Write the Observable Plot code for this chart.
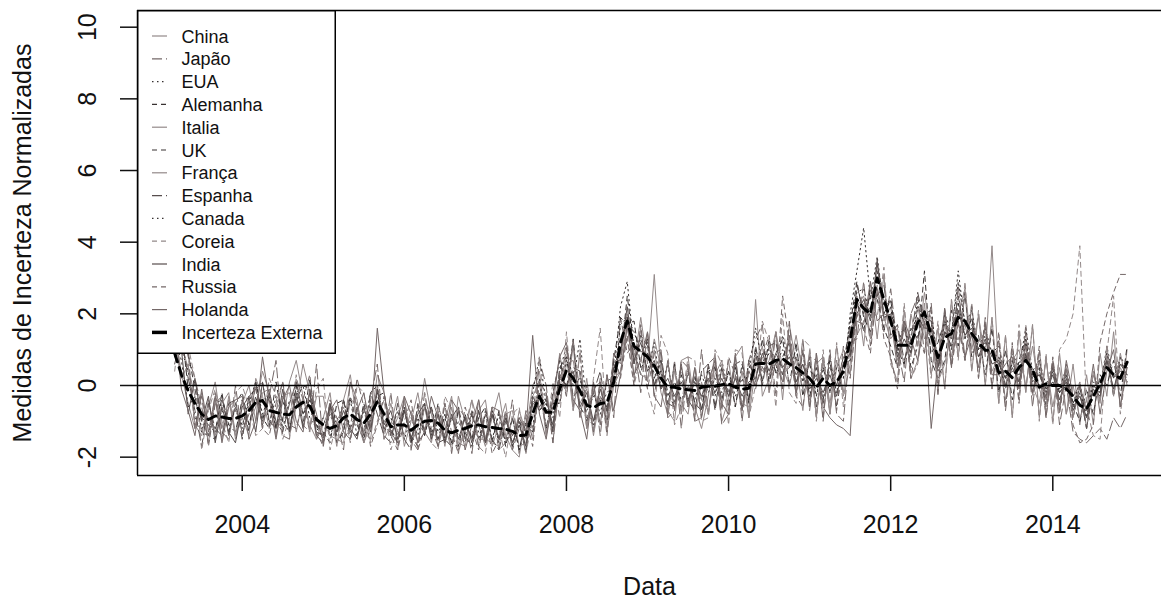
<!DOCTYPE html>
<html>
<head>
<meta charset="utf-8">
<script src="https://cdn.jsdelivr.net/npm/d3@7"></script>
<script src="https://cdn.jsdelivr.net/npm/@observablehq/plot@0.6"></script>
<style>
  html, body { margin: 0; padding: 0; background: #fff; }
  #wrap { position: relative; width: 1161px; height: 605px; overflow: hidden; font-family: "Liberation Sans", Arial, sans-serif; }
  #legend { position: absolute; left: 0; top: 0; pointer-events: none; }
</style>
</head>
<body>
<div id="wrap"></div>
<script>
// Monthly series, March 2003 .. December 2014 (142 values each)
const startYear = 2003, startMonth = 3;
const xTicks = [2004, 2006, 2008, 2010, 2012, 2014];
const yTicks = [-2, 0, 2, 4, 6, 8, 10];

const incertezaExterna = [
  0.9, 0.3, -0.15, -0.5, -0.8, -0.95, -0.85, -0.88, -0.92, -0.92,
  -0.85, -0.7, -0.47, -0.42, -0.7, -0.75, -0.8, -0.82, -0.6, -0.47, -0.58, -0.95,
  -1.1, -1.2, -1.12, -0.9, -0.8, -0.95, -1.05, -0.8, -0.45, -0.8, -1.15, -1.1,
  -1.1, -1.25, -1.1, -1.0, -0.98, -1.05, -1.25, -1.32, -1.25, -1.2, -1.12, -1.1,
  -1.15, -1.17, -1.2, -1.22, -1.28, -1.4, -1.38, -0.78, -0.3, -0.75, -0.75, -0.1,
  0.42, 0.2, -0.15, -0.55, -0.62, -0.5, -0.48, 0.1, 1.2, 1.8, 1.1, 0.95,
  0.8, 0.55, 0.2, -0.05, -0.05, -0.1, -0.12, -0.14, -0.05, -0.02, -0.02, 0.02,
  0.05, -0.05, -0.1, -0.08, 0.6, 0.62, 0.6, 0.7, 0.75, 0.6, 0.5, 0.35,
  0.2, -0.05, 0.2, 0.0, 0.1, 0.4, 1.26, 2.4, 2.15, 2.0, 3.0, 2.4,
  1.8, 1.12, 1.12, 1.12, 1.75, 2.05, 1.4, 0.78, 1.34, 1.45, 1.9, 1.8,
  1.45, 1.2, 0.98, 1.0, 0.35, 0.4, 0.22, 0.5, 0.7, 0.45, -0.05, 0.05,
  0.0, 0.0, -0.1, -0.3, -0.55, -0.65, -0.3, 0.05, 0.5, 0.3, 0.2, 0.65
];

const china = [
  2.2, 1.1, 0.5, -0.3, -1.3, -0.6, 0.1, -1.2, -0.4, -1.4,
  -0.4, -1.1, -0.6, 0.4, -0.2, -1.2, -1.0, 0.1, 0.7, -0.3, -1.1, -1.5,
  -0.9, -0.2, -1.6, -1.2, 0.1, -0.4, -1.6, -1.1, 0.3, -0.2, -1.4, -0.9,
  -0.3, -1.6, -1.2, 0.2, -0.8, -1.7, -1.0, -0.3, -1.8, -1.3, -0.4, -1.1,
  -1.7, -0.9, -0.2, -1.4, -1.8, -0.7, -1.3, 0.0, 0.4, -1.3, -0.6, 0.9,
  -0.3, 1.1, -0.9, 0.2, -1.3, 0.1, -1.1, 0.9, 0.6, 1.9, 0.2, 1.6,
  0.1, 1.3, 0.5, -0.7, -1.0, 0.7, 0.8, -0.6, -1.2, -0.3, 0.9, -1.0,
  -0.4, 0.8, 1.1, -0.9, 2.4, -0.3, 0.2, 1.5, -0.4, 1.7, 0.6, -0.7,
  1.0, -0.9, 0.8, -0.8, 1.1, -0.3, 0.6, 2.5, 1.1, 2.9, 1.3, 3.1,
  0.7, 0.1, 2.1, 0.2, 0.7, 2.3, 0.3, 1.6, -0.1, 2.4, 0.8, 2.6,
  0.4, 2.0, 0.0, 1.9, -0.5, 1.4, -0.9, 1.5, -0.2, 1.7, -0.9, 0.8,
  -1.0, 0.9, -0.8, 0.6, -1.1, 0.3, -1.1, 0.9, -0.3, 1.5, -0.6, 1.0
];
const japao = [
  1.0, 1.9, 0.8, 0.2, -0.6, -1.6, -0.2, -1.3, -1.5, 0.0,
  -1.4, -0.6, 0.1, -1.2, -0.3, 0.7, -1.4, -1.5, 0.2, -0.4, -1.3, 0.6,
  -1.7, -0.5, -1.0, -1.8, 0.1, -0.6, -1.6, -0.4, 0.6, -1.5, -0.2, -1.8,
  -0.4, -1.5, -1.8, -0.2, -1.2, -1.7, -0.5, -1.9, -0.6, -0.9, -1.9, -0.4,
  -1.6, -0.6, -1.8, -1.6, -0.4, -1.9, -0.7, -1.5, 0.7, 0.0, -1.6, 0.1,
  1.0, -0.6, 0.9, -1.2, 0.1, -1.4, 0.3, -0.9, 1.9, 0.9, 1.2, -0.2,
  1.5, -0.3, 1.0, -0.9, 0.7, -1.2, 0.6, -1.0, 1.0, -0.8, 0.7, -1.1,
  -0.8, 0.9, -1.0, 0.7, 1.3, 1.7, -0.2, 1.5, -0.1, 1.8, -0.3, 1.3,
  -0.7, 0.9, -1.0, 1.0, -0.8, -1.0, 1.2, 1.3, 2.9, 1.1, 2.6, 1.5,
  2.7, 1.1, 0.1, 2.0, 2.5, 0.9, 2.3, -0.1, 2.1, 0.5, 2.8, 0.7,
  2.2, 0.2, 1.9, 0.0, 1.3, -0.7, 1.1, -0.4, 1.5, -0.6, 1.0, -0.9,
  0.7, -1.1, 0.0, -1.3, -1.5, -1.6, -1.4, -1.2, -1.5, -0.9, -1.2, -0.8
];
const eua = [
  2.4, 1.0, 0.4, -0.9, -1.3, -1.4, -0.5, -0.4, -1.3, -0.6,
  -1.2, -0.3, -0.1, 0.1, -1.1, -0.3, -1.2, -0.4, -0.2, 0.0, -0.9, -1.2,
  -1.4, -0.8, -1.3, -0.4, -1.2, -0.7, -1.3, -0.2, 0.0, -1.0, -1.4, -0.7,
  -1.5, -0.9, -1.4, -0.6, -1.3, -0.8, -1.6, -0.9, -1.4, -1.6, -0.8, -1.3,
  -1.5, -0.8, -1.6, -0.9, -1.6, -1.1, -1.5, -0.2, 0.8, -0.5, -0.9, 0.4,
  1.1, 0.1, 1.3, -0.6, -0.2, -0.8, 0.1, 0.3, 2.2, 2.9, 1.0, 1.3,
  0.4, 1.2, -0.1, 0.6, -0.5, 0.5, -0.6, 0.2, -0.4, 0.5, -0.3, 0.7,
  -0.2, 0.5, -0.6, 0.4, 1.6, 0.6, 1.1, 0.4, 1.4, 0.5, 1.0, 0.1,
  0.8, -0.3, 0.7, -0.2, 0.7, 0.2, 2.0, 3.2, 4.4, 2.4, 3.6, 2.2,
  2.4, 1.1, 1.7, 1.0, 2.4, 2.0, 2.1, 0.6, 2.0, 1.5, 2.9, 1.7,
  2.1, 1.0, 1.6, 0.9, 1.1, 0.2, 0.9, 0.5, 1.6, 0.4, 0.7, 0.0,
  0.6, -0.1, 0.5, -0.5, 0.1, -0.9, 0.3, -0.1, 1.1, 0.2, 0.8, 0.5
];
const alemanha = [
  1.8, 1.3, 0.9, -0.1, -1.0, -1.4, -1.5, -0.3, -1.1, -1.3,
  -0.4, -1.3, 0.1, -0.9, -1.2, 0.1, -1.0, -1.3, 0.0, -1.1, 0.2, -1.1,
  -1.5, -0.5, -1.6, -1.3, -0.3, -1.1, -1.5, -0.6, -0.3, -0.2, -1.2, -1.6,
  -0.7, -1.4, -1.7, -0.5, -1.4, -0.5, -1.5, -1.7, -0.7, -1.4, -1.7, -0.9,
  -0.6, -1.6, -0.7, -1.7, -0.9, -1.8, -1.0, -1.3, -0.2, -1.2, -0.2, 0.7,
  -0.1, 1.3, -0.6, -0.9, -1.1, -0.4, -1.0, 0.7, 0.7, 2.5, 1.0, 0.3,
  1.3, 0.0, 0.4, -0.6, 0.6, -0.7, 0.4, -0.5, -0.7, 0.6, -0.6, 0.5,
  -0.6, 0.6, -0.7, 0.7, 0.1, 1.3, 0.1, 0.9, 1.3, 0.0, 1.2, -0.3,
  0.7, -0.6, 0.4, 0.7, -0.6, 0.6, 0.7, 2.4, 1.5, 2.7, 2.4, 1.6,
  1.1, 0.5, 1.8, 0.5, 1.1, 3.2, 0.7, 0.2, 0.7, 2.1, 1.1, 2.6,
  0.8, 1.4, 0.3, 1.6, -0.2, 1.0, -0.4, 0.7, 1.3, -0.2, 0.5, -0.6,
  0.5, -0.6, 0.4, -0.9, 0.0, -1.2, 0.0, -0.2, 0.8, -0.3, 0.8, 0.1
];
const italia = [
  1.6, 0.3, -0.5, -1.2, -0.2, -1.6, -0.4, -1.5, -0.3, -1.3,
  -0.9, -1.4, 0.2, -0.3, -1.2, -0.7, 0.1, -1.4, -0.6, 0.6, -0.2, -1.5,
  -1.1, -0.6, -1.7, -0.4, 0.3, -1.0, -1.6, -0.9, -0.1, -1.5, -1.1, -0.3,
  -1.7, -1.0, -0.2, -1.3, -1.6, -0.6, -1.1, -1.8, -0.3, -1.0, -1.5, -0.7,
  -0.4, -1.7, -1.1, -0.5, -1.8, -2.0, -0.8, -1.2, -0.3, -0.2, -1.3, -0.1,
  0.8, -0.7, 0.4, -1.2, -0.1, 0.1, -1.3, 0.0, 0.4, 1.6, 0.6, 1.9,
  0.6, 3.1, 0.3, -0.6, 0.5, -0.8, 0.6, -0.9, 0.1, -0.8, 0.6, -0.6,
  0.7, -0.6, 0.4, -0.9, 0.5, 1.1, -0.2, 0.7, 0.3, 0.5, 1.4, 0.3,
  -0.4, 0.6, 0.8, -0.8, 0.5, 1.0, 0.3, 2.2, 2.5, 1.4, 2.7, 1.9,
  1.3, 1.6, 0.5, 2.0, 1.1, 2.6, 1.3, 0.1, 0.6, 1.5, 1.3, 1.7,
  0.9, 1.2, 1.5, 0.4, 0.8, -0.4, 0.7, 1.0, 0.0, 1.1, -0.1, -0.6,
  0.7, -0.6, 0.5, -0.9, 0.1, -1.2, 0.4, -0.5, 1.1, -0.3, 0.9, 0.0
];
const uk = [
  0.8, 1.6, -0.1, 0.1, -0.9, -1.1, -1.3, -0.2, -1.4, -0.5,
  -0.2, -1.1, -0.3, -1.0, -0.1, -1.2, -0.3, -1.2, -0.4, 0.0, -0.1, -1.1,
  -1.3, -1.6, -0.5, -0.4, -1.3, -1.4, -0.5, -1.2, -0.4, -1.2, -1.3, -1.5,
  -0.6, -1.6, -0.6, -1.4, -0.6, -1.5, -0.8, -1.6, -1.7, -0.8, -1.5, -0.7,
  -1.6, -0.7, -1.5, -0.8, -1.7, -0.9, -1.8, -0.4, -0.7, -0.5, -1.2, 0.5,
  0.8, -0.3, -0.1, -0.8, -1.0, -0.3, -0.6, 0.7, 1.9, 1.7, 1.8, 0.5,
  0.9, 0.2, 0.7, -0.2, -0.6, 0.3, -0.5, 0.3, -0.7, 0.4, 0.5, -0.4,
  0.4, -0.6, 0.6, -0.5, 1.1, 0.1, 1.3, 0.3, 0.8, 1.2, 0.0, 0.9,
  -0.3, 0.5, -0.4, 0.7, -0.2, 0.6, 1.7, 2.9, 1.9, 1.5, 3.2, 2.0,
  2.4, 1.0, 0.6, 1.6, 1.3, 2.1, 0.9, 1.2, 1.8, 1.0, 2.3, 1.3,
  1.9, 0.8, 1.1, 0.6, 0.7, -0.1, 0.7, 0.0, 0.9, 0.2, 0.3, -0.1,
  0.1, -0.2, 0.0, -0.5, -1.0, -0.1, -0.8, 0.3, 0.0, 0.7, -0.3, 1.1
];
const franca = [
  1.7, 0.2, 0.6, -1.1, -1.4, -0.4, -1.4, -0.5, -0.2, -1.5,
  -0.5, 0.0, -1.0, -0.2, -0.1, -1.4, -0.3, -0.2, -1.3, -0.3, -1.2, -0.3,
  -0.3, -1.4, -1.5, -1.6, -0.4, -0.5, -1.3, -1.5, 0.0, -1.3, -0.5, -1.3,
  -1.4, -0.7, -1.6, -0.6, -1.5, -0.7, -1.7, -0.6, -1.6, -1.7, -0.7, -1.5,
  -1.5, -1.6, -1.7, -0.8, -0.7, -1.7, -1.6, -0.3, 0.1, -1.4, -0.4, -0.5,
  0.6, 0.7, -0.5, -0.1, -1.4, -0.3, -0.9, 0.3, 0.8, 2.0, 0.9, 0.3,
  0.2, 1.0, -0.2, -0.8, 0.4, -0.5, -0.8, 0.5, -0.4, -0.7, 0.3, 0.7,
  -0.7, 0.3, -0.5, -0.6, 0.8, 0.4, 0.7, 1.5, 0.5, 0.0, 0.8, -0.1,
  0.9, -0.8, 0.7, -0.5, 0.7, -0.2, 1.6, 1.9, 2.3, 1.3, 3.4, 1.8,
  2.2, 0.7, 1.6, 0.8, 2.2, 1.3, 1.6, 0.6, 1.7, 0.8, 2.0, 2.7,
  1.0, 1.9, 0.8, 3.9, 0.3, 0.0, 1.0, 0.1, 1.2, 0.0, -0.5, 0.7,
  -0.6, 0.5, -0.8, 0.0, -0.9, -0.4, 0.3, -0.4, 0.9, -0.2, 0.5, 0.1
];
const espanha = [
  0.6, 1.4, 0.2, -0.7, -1.7, -0.5, -1.2, -1.4, -0.5, -0.4,
  -1.5, -0.3, -0.1, -1.1, -0.2, -1.0, -1.3, -0.5, 0.1, -0.8, -0.4, -1.3,
  -1.4, -0.6, -1.4, -0.4, -1.5, -0.6, -1.4, -0.2, -0.8, -1.4, -1.6, -0.5,
  -1.5, -1.8, -0.5, -1.3, -0.6, -1.6, -1.5, -0.9, -0.6, -1.5, -0.8, -1.7,
  -0.7, -1.5, -1.8, -1.0, -1.4, -1.0, -1.9, -0.5, -0.6, -0.3, -1.3, 0.3,
  0.0, 0.5, 0.4, -1.0, -0.2, 0.4, -0.8, 0.5, 1.0, 1.9, 0.6, 1.4,
  1.1, 0.0, 0.7, -0.5, -0.6, 0.5, -0.4, -0.7, 0.4, 0.6, -0.7, 0.5,
  -0.3, 0.6, 0.7, -0.4, 0.9, 0.0, 1.1, 1.2, 0.3, 1.0, 0.1, 0.6,
  0.0, 0.3, -0.5, 0.5, 0.0, 0.8, 0.8, 2.8, 2.0, 2.5, 2.5, 2.8,
  1.4, 1.7, 0.7, 1.3, 2.6, 1.7, 1.8, 0.4, 1.5, 1.3, 2.5, 1.4,
  1.7, 1.0, 1.2, 0.8, 0.6, 0.2, 0.4, 0.3, 0.8, 0.3, 0.0, -0.3,
  0.5, -0.2, 0.1, -0.7, -0.2, -1.2, 0.0, -0.2, 0.7, 0.2, 0.4, 0.3
];
const canada = [
  1.3, 0.7, -0.6, -0.3, -1.2, -0.9, -1.2, -0.7, -1.1, -0.7,
  -1.1, -0.5, 0.1, -0.8, -0.3, -1.2, -0.4, -1.2, -0.3, -0.8, -0.4, -1.2,
  -0.9, -1.4, -0.9, -1.1, -0.4, -1.4, -0.7, -1.0, -0.2, -1.2, -0.9, -1.4,
  -0.7, -1.6, -0.9, -1.4, -0.6, -1.3, -0.9, -1.6, -1.0, -1.4, -0.7, -1.5,
  -0.8, -1.5, -0.8, -1.6, -0.9, -1.8, -1.1, -1.2, 0.2, -1.2, -0.5, -0.5,
  0.7, 0.0, 0.2, -0.7, -0.3, -0.6, -0.2, 0.0, 1.7, 1.9, 1.5, 0.9,
  1.2, 0.3, 0.4, -0.3, 0.1, -0.4, 0.0, -0.4, 0.3, -0.2, 0.2, -0.2,
  0.4, -0.3, 0.2, -0.4, 1.0, 0.5, 0.9, 0.6, 1.0, 0.5, 0.8, 0.1,
  0.6, -0.3, 0.5, -0.2, 0.5, 0.2, 1.8, 2.6, 2.7, 1.9, 3.4, 2.4,
  2.2, 0.9, 1.6, 0.9, 2.2, 1.9, 1.8, 0.5, 1.8, 1.4, 3.2, 1.7,
  1.8, 1.0, 1.4, 0.9, 0.8, 0.2, 0.6, 0.3, 1.2, 0.3, 0.4, -0.1,
  0.4, -0.2, 0.3, -0.5, -0.1, -0.9, 0.1, -0.1, 0.9, 0.2, 0.6, 0.5
];
const coreia = [
  0.4, 2.0, 1.1, 0.2, -1.8, -0.7, -0.1, -1.0, -1.6, -0.2,
  0.0, -0.6, -1.4, -1.2, 0.2, -0.3, -1.5, -0.9, 0.3, -1.1, -1.3, -0.1,
  0.2, -1.8, -1.0, -0.6, -1.6, 0.0, -0.2, -1.6, -1.0, -0.4, -1.8, -1.2,
  -0.4, -1.8, -0.7, -0.2, -1.6, -1.8, -0.3, -0.7, -1.9, -1.1, -0.4, -1.7,
  -1.9, -0.6, -1.2, -2.0, -0.8, -0.6, -1.9, -0.9, 0.8, -1.4, 0.1, -0.9,
  1.5, -0.7, 1.0, -1.2, 0.2, 1.6, -1.3, 0.2, 0.4, 1.3, 0.0, 0.8,
  -0.1, -0.8, 1.4, 0.9, -1.1, -0.6, 0.8, 0.7, -1.0, -0.9, 1.0, 0.6,
  -1.1, 1.0, 0.9, -0.9, 0.0, 1.8, 1.2, -0.6, 2.0, -0.2, -0.5, 1.3,
  1.1, -1.0, 1.0, -0.8, 1.2, -0.6, 1.1, 1.4, 1.8, 2.2, 1.9, 3.3,
  0.6, 0.1, 2.3, 0.2, 0.6, 1.9, 0.2, 1.8, -0.1, 2.4, 0.7, 2.9,
  0.4, 2.1, 0.0, 1.9, -0.5, 1.4, -0.9, 1.7, -0.2, 1.7, -1.0, 0.9,
  -1.1, 1.0, 1.3, 2.0, 3.9, -0.6, -1.4, -1.5, 0.9, 2.5, -0.8, 0.6
];
const india = [
  1.5, 1.0, -0.8, 0.2, -1.0, -0.3, -1.6, -0.6, -1.3, -1.6,
  -0.6, -0.3, -1.3, 0.1, -1.0, -1.2, -0.1, -1.3, -0.2, -1.2, -0.2, -1.4,
  -1.6, -0.5, -1.3, -0.7, -1.2, -1.5, -0.6, -1.3, -0.1, -1.1, -0.7, -1.5,
  -0.7, -1.5, -0.8, -0.5, -1.5, -0.8, -1.6, -0.8, -1.5, -0.9, -1.6, -0.7,
  -1.6, -0.8, -1.5, -0.9, -1.6, -1.1, -1.7, -0.3, -0.7, -0.4, -1.1, 0.2,
  0.0, 0.4, -0.6, -0.2, -1.0, -0.1, -0.7, 0.5, 0.9, 2.2, 0.7, 1.2,
  0.4, 0.7, -0.1, 0.2, -0.3, 0.1, -0.4, 0.1, -0.3, 0.2, -0.2, 0.2,
  -0.3, 0.2, -0.3, 0.1, 0.2, 0.9, 0.4, 0.9, 0.5, 0.8, 0.3, 0.6,
  -0.1, 0.2, -0.2, 0.3, -0.3, 0.6, 0.9, 2.0, 2.4, 1.8, 3.5, 1.9,
  2.0, 0.8, 1.3, 0.9, 1.9, 1.6, 1.6, 0.5, 1.5, 1.1, 2.1, 1.4,
  1.6, 0.8, 1.3, 0.6, 0.7, 0.0, 0.5, 0.1, 0.9, 0.1, 0.3, -0.2,
  0.3, -0.4, 0.2, -0.6, -0.3, -0.9, -0.1, -0.3, 0.7, -0.1, 0.6, 0.3
];
const russia = [
  2.4, 1.5, 0.9, -1.2, -0.3, -1.7, -0.5, -0.3, -1.4, -0.6,
  -1.3, -0.8, 0.0, -1.2, -1.4, -0.5, 0.1, -1.1, -1.2, -0.4, 0.3, -1.3,
  -1.7, -0.4, -0.9, -1.5, -1.2, 0.2, -0.6, -1.7, -1.1, -0.3, -1.4, -1.8,
  -1.0, -0.4, -1.8, -1.2, -0.6, -1.7, -0.5, -1.3, -1.9, -0.6, -1.2, -1.8,
  -0.8, -1.9, -1.5, -0.7, -1.8, -1.2, -0.9, -1.7, 0.1, -0.2, -1.6, 0.4,
  -0.3, 1.3, -0.9, 0.0, -1.3, 0.2, -1.4, 0.9, 0.2, 1.4, 0.0, 1.7,
  -0.1, 0.9, 1.0, -0.9, -0.7, 0.7, 0.5, -1.0, -0.9, 0.6, 0.8, -0.7,
  0.8, 0.3, -0.7, 0.7, -0.1, 0.8, 1.4, -0.3, 2.5, 1.2, -0.3, -0.6,
  0.8, 0.7, -0.9, 0.9, -0.7, 1.1, 0.2, 2.0, 1.6, 0.9, 2.8, 1.3,
  0.8, -0.1, 1.8, 0.2, 1.4, 0.9, 2.1, -0.3, 2.2, 0.5, 1.7, 0.7,
  2.3, 0.2, 1.8, -0.1, 1.5, -0.6, 1.2, -0.5, 1.7, -0.3, 1.1, -0.9,
  0.8, -0.8, 0.6, -1.1, -1.6, -1.5, -1.1, 1.2, 2.0, 2.6, 3.1, 3.1
];
const holanda = [
  1.7, -0.1, -0.7, -1.4, -0.1, -1.3, -0.3, -1.6, -0.6, -0.4,
  -0.3, -1.5, -1.0, 0.8, -0.4, -1.5, -0.4, 0.0, -1.0, -1.3, -0.1, -0.8,
  -1.6, -0.7, -0.4, -1.3, -1.5, -0.7, -0.2, -1.2, 1.6, -0.2, -1.3, -1.6,
  -0.3, -0.8, -1.6, -1.3, -0.3, -0.9, -1.4, -0.4, -0.7, -1.8, -1.1, -0.4,
  -1.5, -0.6, -0.7, -1.5, -1.4, -0.9, -1.3, 1.4, -0.8, -1.5, -0.3, 0.8,
  1.2, -0.4, -0.7, -1.5, 0.1, -1.1, 0.3, -0.7, 0.3, 1.7, 0.3, 0.7,
  1.5, -0.3, -0.6, 0.7, -0.7, 0.6, -0.6, 0.5, -0.9, 0.1, 0.7, -0.5,
  -0.8, 0.8, -0.7, 0.4, 0.0, 0.5, 0.3, 0.6, 0.1, 1.4, -0.2, 1.0,
  -0.6, 0.9, -0.6, -0.9, -1.1, -1.2, -1.4, 1.8, 1.7, 2.9, 1.8, 2.0,
  1.9, 0.5, 1.8, 1.3, 0.7, 1.8, -1.2, 0.7, 2.1, 0.6, 1.8, 0.8,
  1.4, 0.5, 1.7, 0.3, 0.3, 0.6, 0.8, -0.1, 1.1, -0.2, 0.7, -0.4,
  0.6, -0.7, 0.7, -0.3, 0.0, -0.7, 0.6, -0.8, 0.4, 1.0, -0.6, 0.5
];

const names = ["China", "Japão", "EUA", "Alemanha", "Italia", "UK", "França", "Espanha", "Canada", "Coreia", "India", "Russia", "Holanda"];
const values = [china, japao, eua, alemanha, italia, uk, franca, espanha, canada, coreia, india, russia, holanda];

// styles (not data)
const LIGHT = "#938989", MID = "#746868", DARKG = "#574e4e", DARK = "#383232";
const SOLID = null, DOT = "1.5,3.5", DASH = "5,4", LONG = "10,4";
const styles = [
  [LIGHT, SOLID], [MID, LONG], [DARK, DOT], [DARK, DASH], [LIGHT, SOLID], [DARK, DASH],
  [LIGHT, SOLID], [DARKG, LONG], [DARK, DOT], [LIGHT, DASH], [DARKG, SOLID], [MID, DASH], [MID, SOLID]
];

values.forEach((v, k) => { if (v.length !== 142) throw new Error(names[k] + " has " + v.length); });
if (incertezaExterna.length !== 142) throw new Error("main " + incertezaExterna.length);

const timeOf = i => startYear + (startMonth - 1 + i) / 12;

const xDomain = [2002.708, 2015.341];
const yDomain = [-2.512, 10.466];

const marks = [];
values.forEach((arr, k) => {
  const rows = arr.map((v, i) => ({t: timeOf(i), v}));
  marks.push(Plot.line(rows, {x: "t", y: "v", stroke: styles[k][0], strokeWidth: 1, strokeDasharray: styles[k][1] || undefined}));
});
marks.push(Plot.line(incertezaExterna.map((v, i) => ({t: timeOf(i), v})), {x: "t", y: "v", stroke: "black", strokeWidth: 3, strokeDasharray: "9,6"}));
marks.push(Plot.ruleY([0], {stroke: "black", strokeWidth: 1.5}));
marks.push(Plot.ruleX([xDomain[0]], {stroke: "black", strokeWidth: 1.5}));
marks.push(Plot.ruleY([yDomain[0], yDomain[1]], {stroke: "black", strokeWidth: 1.5}));
marks.push(Plot.axisX(xTicks, {tickSize: 16, tickPadding: 24, tickFormat: d => String(d), fontSize: 25, strokeWidth: 1.5, label: null}));
marks.push(Plot.axisY(yTicks, {tickSize: 17, tickPadding: 25, tickRotate: -90, tickFormat: d => String(d), fontSize: 25, strokeWidth: 1.5, label: null}));
marks.push(Plot.text(["Data"], {frameAnchor: "bottom", dy: 102, lineAnchor: "top", textAnchor: "middle", fontSize: 25, fill: "#111"}));
marks.push(Plot.text(["Medidas de Incerteza Normalizadas"], {frameAnchor: "left", dx: -124, rotate: -90, lineAnchor: "top", textAnchor: "middle", fontSize: 25, fill: "#111"}));

const chart = Plot.plot({
  width: 1161, height: 605,
  marginLeft: 137, marginRight: 0, marginTop: 10, marginBottom: 130,
  x: {type: "linear", domain: xDomain, axis: null},
  y: {type: "linear", domain: yDomain, axis: null},
  style: {fontFamily: "'Liberation Sans', Arial, sans-serif", color: "#111", background: "white", overflow: "visible"},
  marks
});
const wrap = document.getElementById("wrap");
wrap.appendChild(chart);

// Legend (overlay box at the top-left corner of the plot region)
const legendItems = names.map((n, k) => ({name: n, color: styles[k][0], dash: styles[k][1], width: 1.2}))
  .concat([{name: "Incerteza Externa", color: "black", dash: null, width: 3.5}]);
const svg = d3.select(wrap).append("svg").attr("id", "legend").attr("width", 1161).attr("height", 605);
svg.append("rect").attr("x", 137.75).attr("y", 10.75).attr("width", 197.5).attr("height", 342.5)
  .attr("fill", "white").attr("stroke", "black").attr("stroke-width", 1.5);
legendItems.forEach((d, k) => {
  const yc = 36 + k * 22.8;
  svg.append("line").attr("x1", 152).attr("x2", 167).attr("y1", yc).attr("y2", yc)
    .attr("stroke", d.color).attr("stroke-width", d.width).attr("stroke-dasharray", d.dash || null);
  svg.append("text").attr("x", 181.5).attr("y", yc + 6.5).attr("font-size", 18)
    .attr("font-family", "'Liberation Sans', Arial, sans-serif").attr("fill", "#111").text(d.name);
});
</script>
</body>
</html>
